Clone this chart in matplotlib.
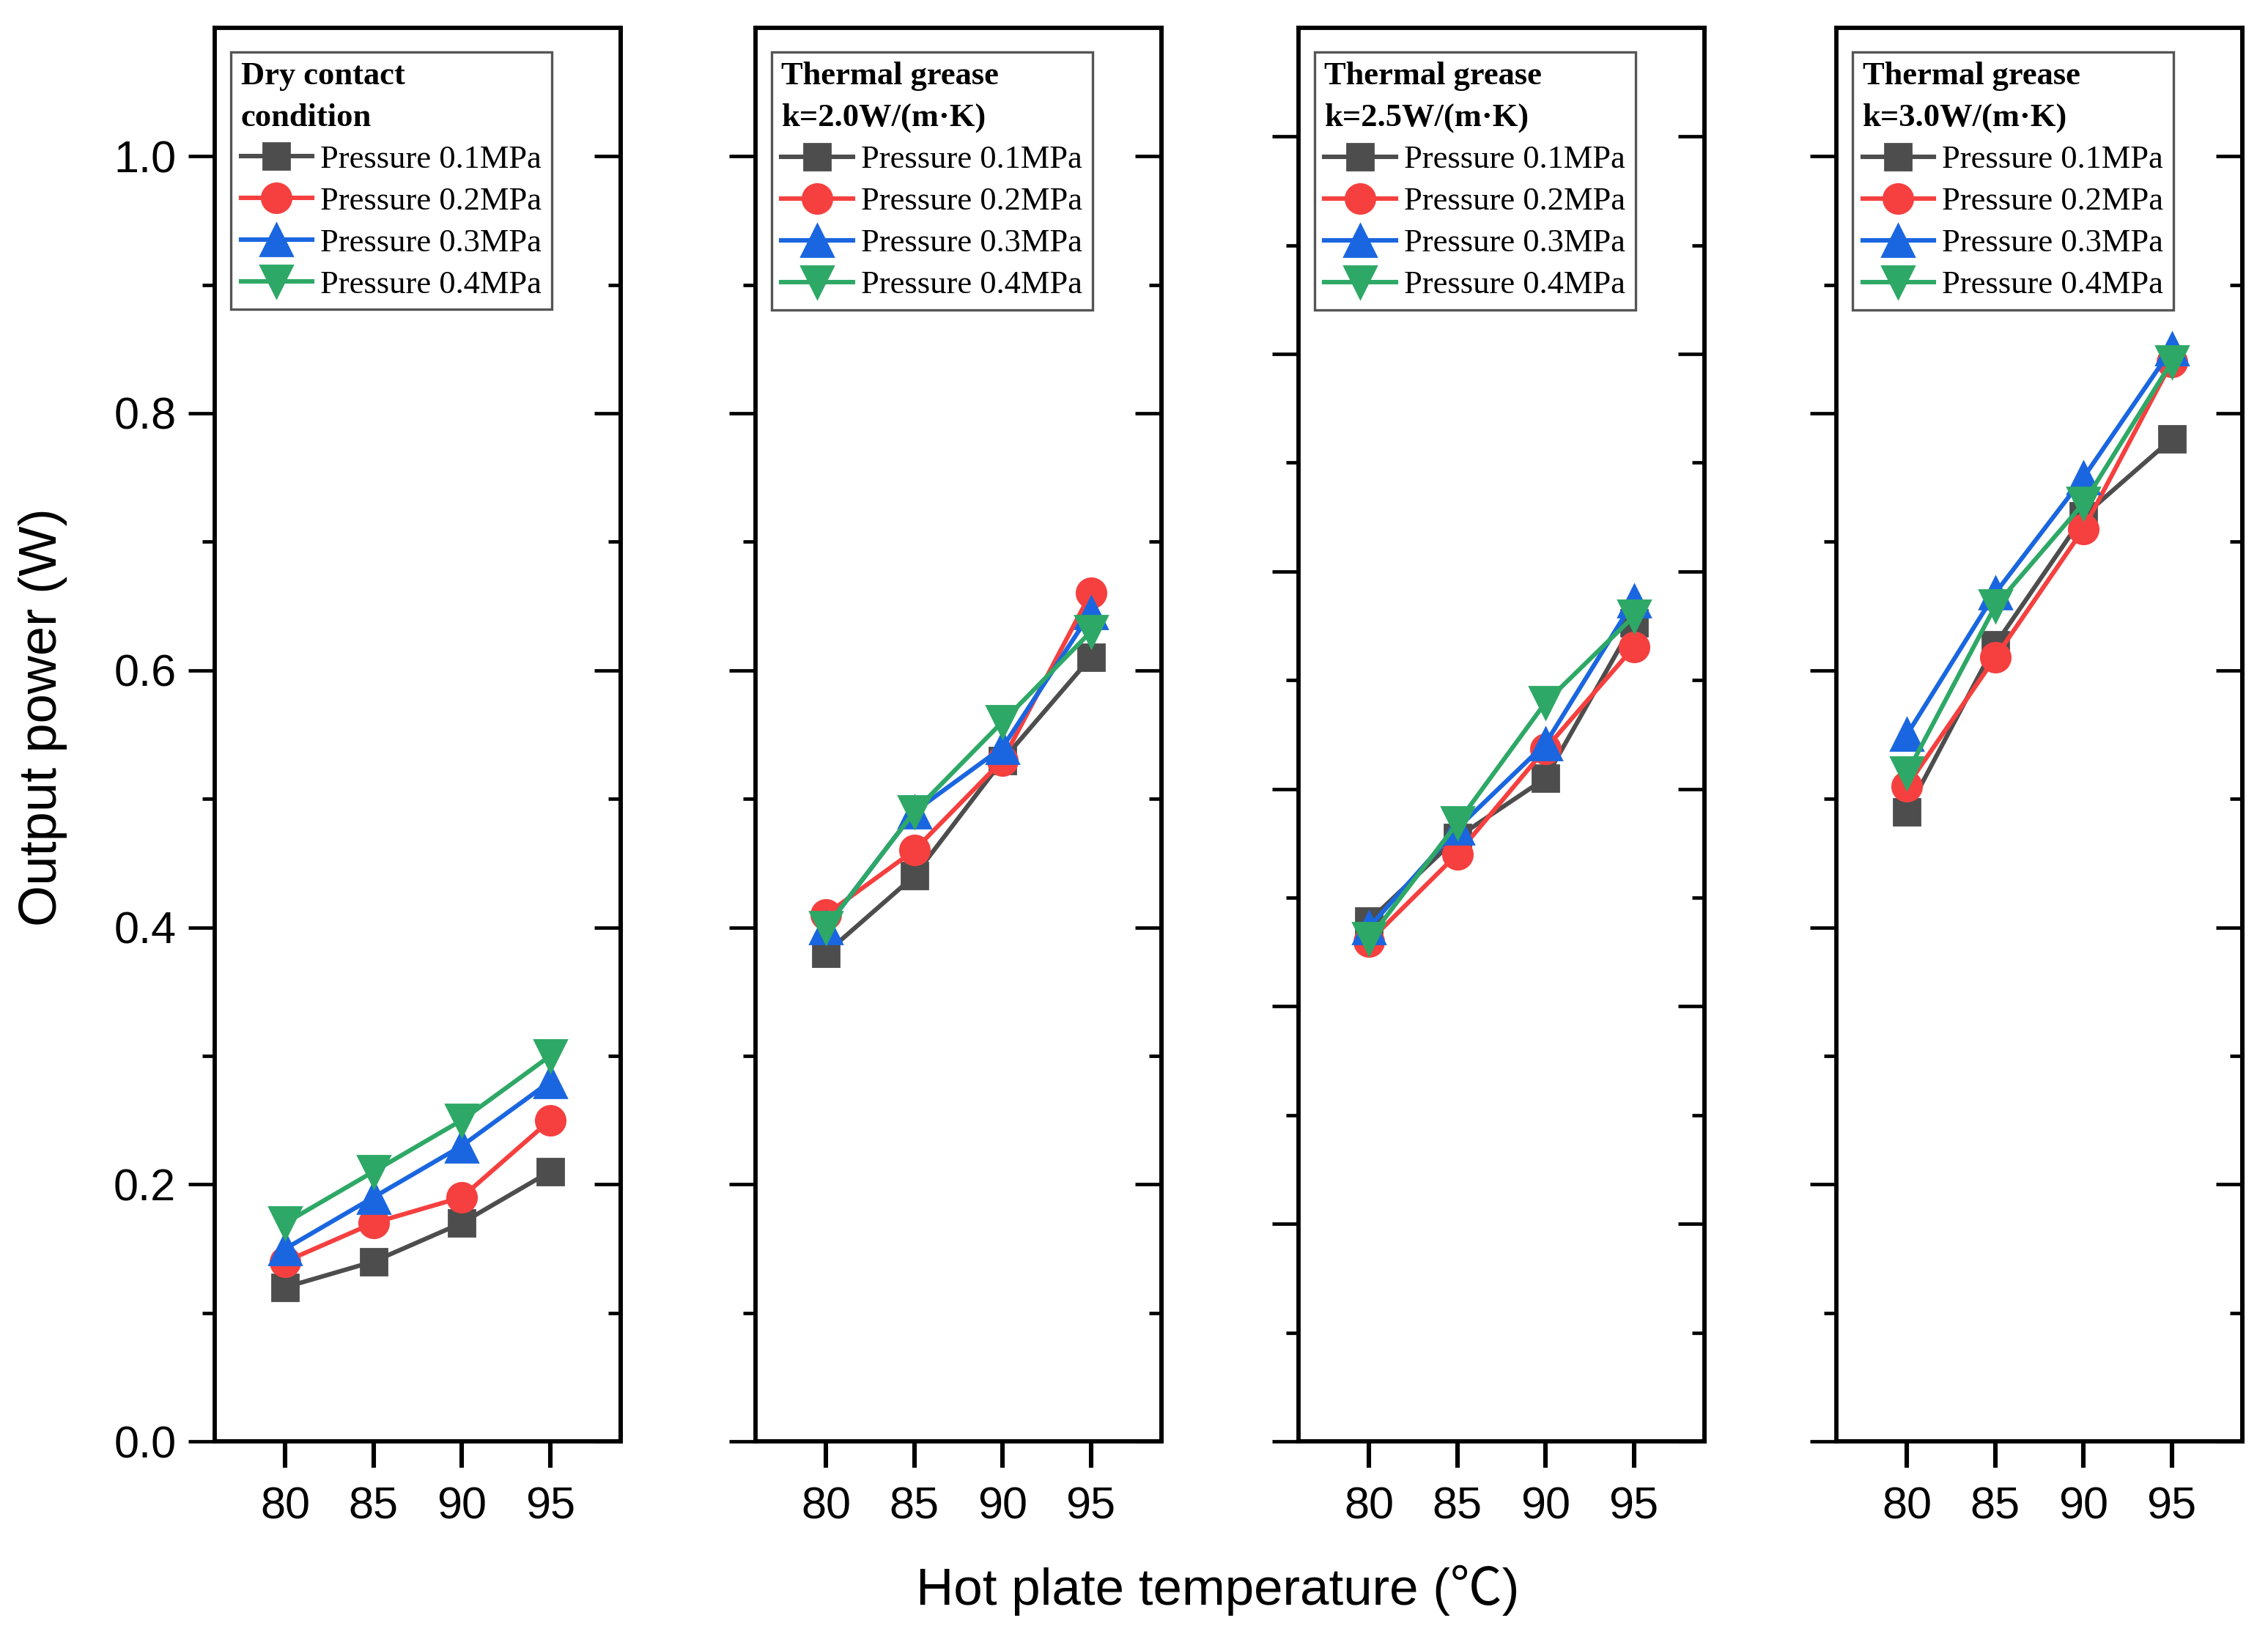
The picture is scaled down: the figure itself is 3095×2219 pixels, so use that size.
import matplotlib
matplotlib.use('Agg')
import matplotlib.pyplot as plt
import numpy as np

# hot plate temperature (deg C)
temps = [80, 85, 90, 95]
pressure_labels = ['Pressure 0.1MPa', 'Pressure 0.2MPa', 'Pressure 0.3MPa', 'Pressure 0.4MPa']

# output power (W), one row per pressure 0.1 / 0.2 / 0.3 / 0.4 MPa
dry_contact = [
    [0.12, 0.14, 0.17, 0.21],
    [0.14, 0.17, 0.19, 0.25],
    [0.15, 0.19, 0.23, 0.28],
    [0.17, 0.21, 0.25, 0.30],
]
grease_k20 = [
    [0.38, 0.44, 0.53, 0.61],
    [0.41, 0.46, 0.53, 0.66],
    [0.40, 0.49, 0.54, 0.645],
    [0.40, 0.49, 0.56, 0.63],
]
grease_k25 = [
    [0.405, 0.47, 0.516, 0.637],
    [0.389, 0.457, 0.539, 0.618],
    [0.400, 0.477, 0.543, 0.654],
    [0.391, 0.481, 0.575, 0.642],
]
grease_k30 = [
    [0.49, 0.62, 0.72, 0.78],
    [0.51, 0.61, 0.71, 0.84],
    [0.55, 0.66, 0.75, 0.85],
    [0.52, 0.65, 0.73, 0.84],
]

panels = [dry_contact, grease_k20, grease_k25, grease_k30]
titles = ['Dry contact\ncondition',
          'Thermal grease\nk=2.0W/(m\u00b7K)',
          'Thermal grease\nk=2.5W/(m\u00b7K)',
          'Thermal grease\nk=3.0W/(m\u00b7K)']

colors = ['#4d4d4d', '#f5403f', '#1a66e0', '#2ea866']
markers = ['s', 'o', '^', 'v']
msizes = [13, 14.5, 15.5, 15.5]

sans = ['Liberation Sans', 'DejaVu Sans']
serif = 'Liberation Serif'

fig = plt.figure(figsize=(15.475, 11.095), dpi=200)

lefts = [0.0947, 0.3331, 0.5725, 0.8097]
width = 0.179
bottom, top = 0.1135, 0.983

for i, (data, title) in enumerate(zip(panels, titles)):
    ax = fig.add_axes([lefts[i], bottom, width, top - bottom])
    for j, series in enumerate(data):
        ax.plot(temps, series, color=colors[j], lw=2.2, marker=markers[j],
                ms=msizes[j], label=pressure_labels[j])

    ax.set_xlim(76, 99)
    ax.set_ylim(0, 1.1)
    ax.set_xticks(temps)

    if i == 2:
        # this panel has a different tick spacing in the original
        step = 1.1 / 13
        major = np.arange(0, 13, 2) * step
        minor = np.arange(1, 13, 2) * step
    else:
        major = np.arange(0, 1.01, 0.2)
        minor = np.arange(0.1, 1.01, 0.2)
    ax.set_yticks(major)
    ax.set_yticks(minor, minor=True)

    if i == 0:
        ax.set_yticklabels(['%.1f' % v for v in major])
    else:
        ax.set_yticklabels([])

    ax.tick_params(axis='y', which='major', direction='out', length=13, width=1.7, pad=6,
                   labelsize=22, left=True, right=False)
    ax.tick_params(axis='y', which='minor', direction='out', length=6, width=1.7,
                   left=True, right=False)
    ax.tick_params(axis='x', which='major', direction='out', length=13, width=2.2, pad=9,
                   labelsize=22, top=False)
    for lab in ax.get_xticklabels() + ax.get_yticklabels():
        lab.set_family(sans)

    for sp in ax.spines.values():
        sp.set_linewidth(2.1)

    # right-hand ticks point inwards
    sec = ax.secondary_yaxis('right')
    sec.set_yticks(major)
    sec.set_yticks(minor, minor=True)
    sec.tick_params(which='major', direction='in', length=13, width=1.7, labelright=False)
    sec.tick_params(which='minor', direction='in', length=6, width=1.7, labelright=False)
    sec.spines['right'].set_linewidth(2.1)

    leg = ax.legend(loc='upper left', bbox_to_anchor=(0.04, 0.983), borderaxespad=0,
                    title=title, alignment='left', numpoints=1,
                    prop={'family': serif, 'size': 16},
                    title_fontproperties={'family': serif, 'weight': 'bold', 'size': 16},
                    fancybox=False, framealpha=1, edgecolor='#555555',
                    borderpad=0.3, handlelength=2.2, handletextpad=0.25,
                    labelspacing=0.38)
    leg.get_frame().set_linewidth(1.2)
    leg.get_title().set_linespacing(1.55)

fig.text(0.019, 0.559, 'Output power (W)', rotation=90, ha='center', va='center',
         fontsize=26, family=sans)
fig.text(0.537, 0.022, 'Hot plate temperature (\u2103)', ha='center', va='center',
         fontsize=25.5, family=['Liberation Sans', 'Noto Sans CJK SC', 'DejaVu Sans'])

fig.savefig('out.png', dpi=200)
plt.close()
